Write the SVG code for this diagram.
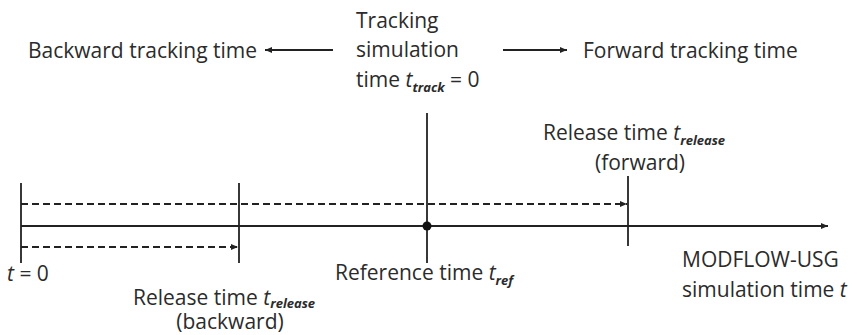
<svg xmlns="http://www.w3.org/2000/svg" width="857" height="335" viewBox="0 0 857 335">
<style>
text{font-family:"Open Sans","Liberation Sans",sans-serif;font-size:21px;fill:#2b2b2b}
.it{font-style:italic}
.sub{font-style:italic;font-weight:bold;font-size:13px}
.ln{stroke:#222222;stroke-width:1.8;fill:none}
.ds{stroke:#222222;stroke-width:1.8;fill:none;stroke-dasharray:7 4}
</style>
<defs>
<marker id="ah" markerWidth="8" markerHeight="8" refX="7" refY="4" orient="auto" markerUnits="userSpaceOnUse">
<path d="M0,1 L7,4 L0,7 Z" fill="#222222"/>
</marker>
</defs>
<rect width="857" height="335" fill="#ffffff"/>
<g id="connectors">
<line class="ln" x1="333" y1="50" x2="265" y2="50" marker-end="url(#ah)"/>
<line class="ln" x1="503" y1="50" x2="567" y2="50" marker-end="url(#ah)"/>
<line class="ln" x1="21" y1="226" x2="828" y2="226" marker-end="url(#ah)"/>
<line class="ds" x1="21" y1="204" x2="627" y2="204" marker-end="url(#ah)"/>
<line class="ds" x1="21" y1="247" x2="238" y2="247" marker-end="url(#ah)"/>
</g>
<g id="tick-t0"><line class="ln" x1="21" y1="183" x2="21" y2="263"/></g>
<g id="tick-release-backward"><line class="ln" x1="239" y1="183" x2="239" y2="263"/></g>
<g id="tick-reference"><line class="ln" x1="427" y1="113" x2="427" y2="263"/><circle cx="427" cy="226" r="4.5" fill="#111111"/></g>
<g id="tick-release-forward"><line class="ln" x1="628" y1="176" x2="628" y2="246"/></g>
<g id="label-backward"><text x="28" y="58">Backward tracking time</text></g>
<g id="label-forward"><text x="583" y="58">Forward tracking time</text></g>
<g id="label-tracking">
<text x="356" y="28">Tracking</text>
<text x="356" y="57">simulation</text>
<text x="356" y="87">time <tspan class="it">t</tspan><tspan class="sub" dy="5">track</tspan><tspan dy="-5"> = 0</tspan></text>
</g>
<g id="label-t0"><text x="7" y="281" font-size="22"><tspan class="it">t</tspan> = 0</text></g>
<g id="label-reference"><text x="335" y="280">Reference time <tspan class="it">t</tspan><tspan class="sub" dy="5">ref</tspan></text></g>
<g id="label-release-backward">
<text x="133" y="305">Release time <tspan class="it">t</tspan><tspan class="sub" dy="3">release</tspan></text>
<text x="230" y="329" text-anchor="middle">(backward)</text>
</g>
<g id="label-release-forward">
<text x="543" y="140">Release time <tspan class="it">t</tspan><tspan class="sub" dy="5">release</tspan></text>
<text x="640" y="170" text-anchor="middle">(forward)</text>
</g>
<g id="label-modflow">
<text x="682" y="267">MODFLOW-USG</text>
<text x="682" y="297">simulation time <tspan class="it">t</tspan></text>
</g>
</svg>
